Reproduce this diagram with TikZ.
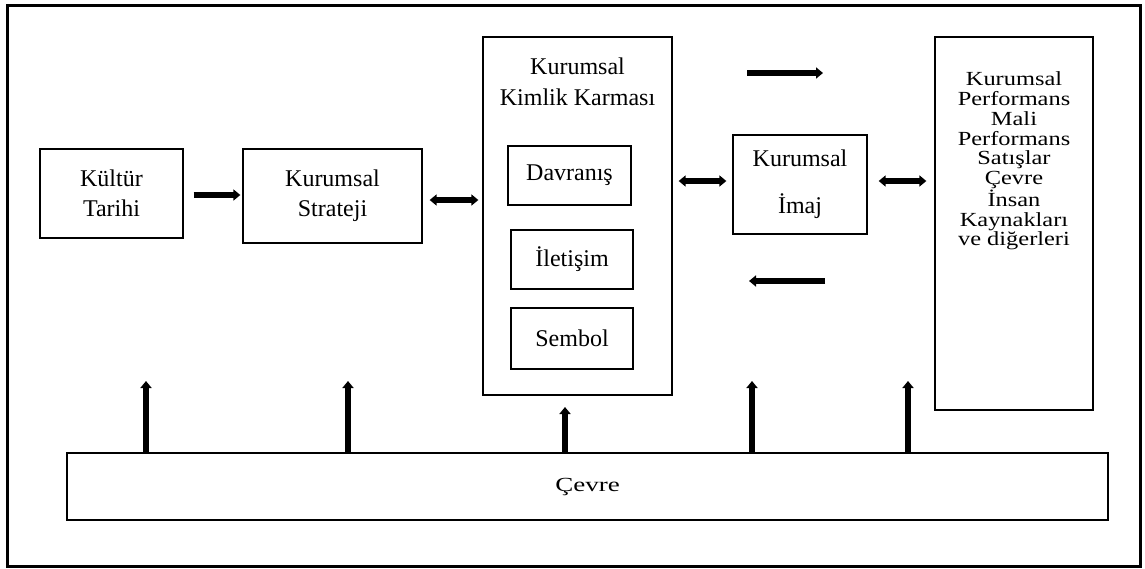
\documentclass[tikz,border=0pt]{standalone}
\usepackage{fontspec}
\setmainfont{Liberation Serif}
\newfontfamily\perffont{Liberation Serif}[FakeStretch=1.22]
\newfontfamily\cevrefont{Liberation Serif}[FakeStretch=1.35]
\usepackage{tikz}
\usetikzlibrary{arrows.meta,calc}

\tikzset{
    box/.style={draw, line width=1.3pt, inner sep=0pt, align=center,
        font=\fontsize{24}{30}\selectfont},
    arr/.style={line width=5.5pt, -{Triangle[width=11pt,length=7pt]}},
    dbl/.style={line width=5.5pt, {Triangle[width=11pt,length=7pt]}-{Triangle[width=11pt,length=7pt]}}
}

\begin{document}
\begin{tikzpicture}[x=1pt,y=-1pt]
        \useasboundingbox (0,0) rectangle (1145,568);
        \draw[line width=3pt] (7,5) rectangle (1140,566);

        \node[box, minimum width=143pt, minimum height=89pt] (kultur) at (111.5,193.5) {Kültür\\Tarihi};
        \node[box, minimum width=179pt, minimum height=94pt] (strateji) at (332.5,196) {Kurumsal\\Strateji};
        \node[box, minimum width=189pt, minimum height=358pt] (kkk) at (577.5,216) {};
        \node[align=center, font=\fontsize{24}{31}\selectfont] (kkktitle) at (577.5,81.5) {Kurumsal\\Kimlik Karması};
        \node[box, minimum width=123pt, minimum height=59pt] (davranis) at (569.5,175.5) {Davranış};
        \node[box, minimum width=122pt, minimum height=59pt] (iletisim) at (572,259.5) {İletişim};
        \node[box, minimum width=122pt, minimum height=61pt] (sembol) at (572,338.5) {Sembol};
        \node[box, minimum width=134pt, minimum height=99pt, font=\fontsize{24}{47}\selectfont] (imaj) at (800,184.5) {Kurumsal\\İmaj};
        \node[box, minimum width=158pt, minimum height=373pt] (perf) at (1014,223.5) {};
        \node[align=center, font=\perffont\fontsize{20}{19.8}\selectfont] (perftext) at (1014,161) {Kurumsal\\Performans\\Mali\\Performans\\Satışlar\\Çevre\\İnsan\\Kaynakları\\ve diğerleri};
        \node[box, minimum width=1041pt, minimum height=67pt, font=\cevrefont\fontsize{20}{24}\selectfont] (cevre) at (587.5,486.5) {Çevre};

        \coordinate (fwdA) at (747,73);
        \coordinate (fwdB) at (823,73);
        \coordinate (backA) at (825,281);
        \coordinate (backB) at (749,281);

        \draw[arr] ([xshift=10pt,yshift=-1.5pt]kultur.east) -- ([xshift=-2pt,yshift=-1.5pt]strateji.west |- kultur.east);
        \draw[dbl] ([xshift=7pt,yshift=-4pt]strateji.east) -- ([xshift=-4pt,yshift=-4pt]kkk.west |- strateji.east);
        \draw[dbl] ([xshift=6pt,yshift=3.5pt]kkk.east |- imaj.west) -- ([xshift=-6pt,yshift=3.5pt]imaj.west);
        \draw[dbl] ([xshift=11pt,yshift=3.5pt]imaj.east) -- ([xshift=-8pt,yshift=3.5pt]perf.west |- imaj.east);
        \draw[arr] (fwdA) -- (fwdB);
        \draw[arr] (backA) -- (backB);

        \foreach \i/\x/\y in {1/146/381, 2/348/381, 3/565/407, 4/752/381, 5/908/381} {
            \coordinate (up\i) at (\x,\y);
            \draw[arr] (up\i |- cevre.north) -- (up\i);
        }
\end{tikzpicture}
\end{document}
